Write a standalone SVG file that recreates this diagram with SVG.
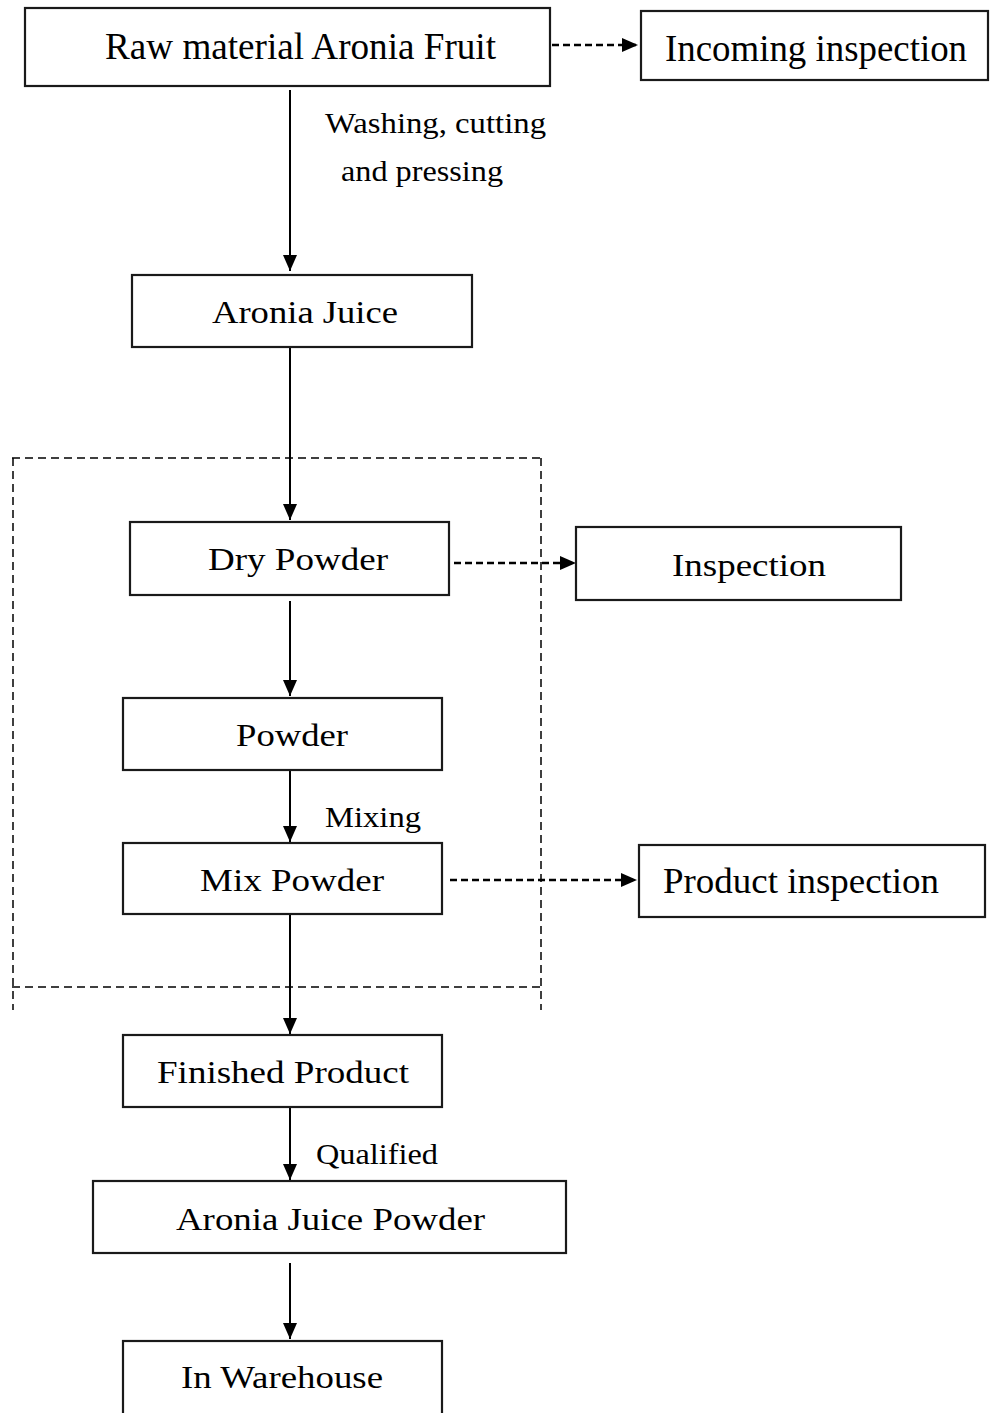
<svg xmlns="http://www.w3.org/2000/svg" width="990" height="1413" viewBox="0 0 990 1413">
<style>
.box{fill:#fff;stroke:#1a1a1a;stroke-width:2.2}
.t{font-family:"Liberation Serif","Times New Roman",serif;fill:#000}
.solid{stroke:#000;stroke-width:2;fill:none}
.dash{stroke:#000;stroke-width:2.5;fill:none;stroke-dasharray:7 4}
.grp{stroke:#000;stroke-width:1.5;fill:none;stroke-dasharray:8 5}
</style>
<defs>
<marker id="ah" markerUnits="userSpaceOnUse" markerWidth="16" markerHeight="14" refX="16" refY="7" orient="auto">
<path d="M0,0 L16,7 L0,14 Z" fill="#000"/>
</marker>
</defs>
<rect width="990" height="1413" fill="#fff"/>
<g id="group-frame">
<line class="grp" x1="12" y1="458" x2="541" y2="458"/>
<line class="grp" x1="13" y1="458" x2="13" y2="1010"/>
<line class="grp" x1="541" y1="458" x2="541" y2="1010"/>
<line class="grp" x1="12" y1="987" x2="541" y2="987"/>
</g>
<g id="connectors">
<line class="dash" x1="552" y1="45" x2="638" y2="45" marker-end="url(#ah)"/>
<line class="solid" x1="290" y1="90" x2="290" y2="271" marker-end="url(#ah)"/>
<line class="solid" x1="290" y1="347" x2="290" y2="520" marker-end="url(#ah)"/>
<line class="dash" x1="443" y1="563" x2="576" y2="563" marker-end="url(#ah)"/>
<line class="solid" x1="290" y1="601" x2="290" y2="696" marker-end="url(#ah)"/>
<line class="solid" x1="290" y1="770" x2="290" y2="842" marker-end="url(#ah)"/>
<line class="dash" x1="450" y1="880" x2="637" y2="880" marker-end="url(#ah)"/>
<line class="solid" x1="290" y1="914" x2="290" y2="1034" marker-end="url(#ah)"/>
<line class="solid" x1="290" y1="1107" x2="290" y2="1180" marker-end="url(#ah)"/>
<line class="solid" x1="290" y1="1263" x2="290" y2="1339" marker-end="url(#ah)"/>
<text class="t" x="325" y="133" font-size="29" textLength="221" lengthAdjust="spacingAndGlyphs">Washing, cutting</text>
<text class="t" x="341" y="181" font-size="29" textLength="162" lengthAdjust="spacingAndGlyphs">and pressing</text>
<text class="t" x="325" y="827" font-size="29" textLength="96" lengthAdjust="spacingAndGlyphs">Mixing</text>
<text class="t" x="316" y="1164" font-size="29" textLength="122" lengthAdjust="spacingAndGlyphs">Qualified</text>
</g>
<g id="raw">
<rect class="box" x="25" y="8" width="525" height="78"/>
<text class="t" x="105" y="59" font-size="37" textLength="391" lengthAdjust="spacingAndGlyphs">Raw material Aronia Fruit</text>
</g>
<g id="incoming">
<rect class="box" x="641" y="11" width="347" height="69"/>
<text class="t" x="665" y="61" font-size="37" textLength="302" lengthAdjust="spacingAndGlyphs">Incoming inspection</text>
</g>
<g id="juice">
<rect class="box" x="132" y="275" width="340" height="72"/>
<text class="t" x="212" y="323" font-size="32" textLength="186" lengthAdjust="spacingAndGlyphs">Aronia Juice</text>
</g>
<g id="dry">
<rect class="box" x="130" y="522" width="319" height="73"/>
<text class="t" x="208" y="570" font-size="32" textLength="180" lengthAdjust="spacingAndGlyphs">Dry Powder</text>
</g>
<g id="inspection">
<rect class="box" x="576" y="527" width="325" height="73"/>
<text class="t" x="672" y="576" font-size="32" textLength="154" lengthAdjust="spacingAndGlyphs">Inspection</text>
</g>
<g id="powder">
<rect class="box" x="123" y="698" width="319" height="72"/>
<text class="t" x="236" y="746" font-size="32" textLength="112" lengthAdjust="spacingAndGlyphs">Powder</text>
</g>
<g id="mix">
<rect class="box" x="123" y="843" width="319" height="71"/>
<text class="t" x="200" y="891" font-size="32" textLength="184" lengthAdjust="spacingAndGlyphs">Mix Powder</text>
</g>
<g id="product-inspection">
<rect class="box" x="639" y="845" width="346" height="72"/>
<text class="t" x="663" y="893" font-size="35" textLength="276" lengthAdjust="spacingAndGlyphs">Product inspection</text>
</g>
<g id="finished">
<rect class="box" x="123" y="1035" width="319" height="72"/>
<text class="t" x="157" y="1083" font-size="32" textLength="252" lengthAdjust="spacingAndGlyphs">Finished Product</text>
</g>
<g id="juice-powder">
<rect class="box" x="93" y="1181" width="473" height="72"/>
<text class="t" x="176" y="1230" font-size="32" textLength="309" lengthAdjust="spacingAndGlyphs">Aronia Juice Powder</text>
</g>
<g id="warehouse">
<rect class="box" x="123" y="1341" width="319" height="80"/>
<text class="t" x="181" y="1388" font-size="32" textLength="202" lengthAdjust="spacingAndGlyphs">In Warehouse</text>
</g>
</svg>
